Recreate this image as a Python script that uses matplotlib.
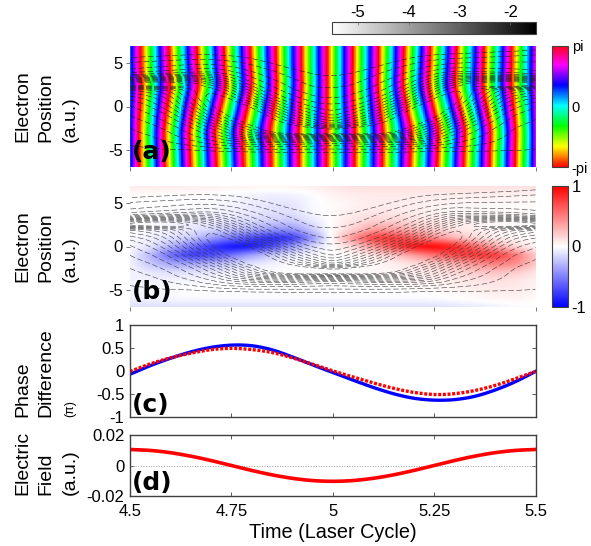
import numpy as np
import matplotlib
matplotlib.use("Agg")
import matplotlib.pyplot as plt
from matplotlib.colors import LinearSegmentedColormap, Normalize
from matplotlib.cm import ScalarMappable

plt.rcParams['font.family'] = ['Liberation Sans', 'DejaVu Sans']
plt.rcParams['axes.unicode_minus'] = False

W, H = 591, 546
TICKS_T = [4.5, 4.75, 5, 5.25, 5.5]
TICK_LABELS_T = ['4.5', '4.75', '5', '5.25', '5.5']

# ---- log density table: one list per time column, one value per y row
density_y = [7, 6, 5, 4.5, 4, 3.5, 3, 2.5, 2, 1, 0, -1, -2, -2.5, -3, -3.5, -4, -4.5, -5, -6, -7]
density_t = [4.5, 4.55, 4.6, 4.65, 4.7, 4.75, 4.8, 4.85, 4.9, 4.95, 5.0,
             5.05, 5.1, 5.15, 5.2, 5.25, 5.3, 5.35, 5.4, 5.45, 5.5]
density = [
 [-6.2,-5.55,-5.1,-4.98,-4.75,-4.25,-3.0,-2.3,-3.8,-4.3,-4.7,-4.9,-5.05,-5.15,-5.2,-5.25,-5.33,-5.4,-5.45,-5.6,-5.8],
 [-6.1,-5.5,-5.05,-4.9,-4.65,-4.1,-2.8,-2.1,-3.6,-4.1,-4.4,-4.7,-4.92,-5.02,-5.1,-5.18,-5.25,-5.35,-5.45,-5.7,-5.95],
 [-6.0,-5.45,-5.0,-4.85,-4.55,-4.0,-2.8,-2.2,-3.3,-3.7,-4.0,-4.35,-4.65,-4.8,-4.9,-5.0,-5.12,-5.25,-5.4,-5.75,-6.1],
 [-5.9,-5.4,-4.95,-4.75,-4.45,-3.9,-3.0,-2.5,-2.8,-3.0,-3.35,-3.8,-4.25,-4.45,-4.6,-4.75,-4.95,-5.15,-5.4,-5.85,-6.3],
 [-5.9,-5.4,-4.95,-4.7,-4.4,-3.95,-3.4,-3.0,-2.6,-2.4,-2.6,-3.1,-3.7,-4.0,-4.2,-4.45,-4.7,-5.0,-5.3,-5.95,-6.5],
 [-5.95,-5.45,-5.05,-4.85,-4.6,-4.3,-4.0,-3.6,-3.2,-2.6,-2.2,-2.4,-3.0,-3.4,-3.7,-4.0,-4.4,-4.85,-5.25,-6.0,-6.6],
 [-6.1,-5.55,-5.2,-5.05,-4.9,-4.7,-4.5,-4.3,-4.0,-3.4,-2.6,-2.2,-2.4,-2.8,-3.1,-3.6,-4.2,-4.8,-5.2,-5.95,-6.6],
 [-6.3,-5.75,-5.4,-5.25,-5.1,-5.0,-4.85,-4.7,-4.55,-4.1,-3.4,-2.7,-2.3,-2.2,-2.6,-3.4,-4.2,-4.8,-5.2,-5.9,-6.5],
 [-6.5,-5.95,-5.6,-5.45,-5.3,-5.2,-5.1,-5.0,-4.9,-4.55,-4.05,-3.4,-2.7,-2.3,-2.2,-3.3,-4.2,-4.8,-5.2,-5.85,-6.4],
 [-6.7,-6.1,-5.75,-5.6,-5.45,-5.35,-5.27,-5.2,-5.1,-4.85,-4.45,-3.95,-3.2,-2.5,-2.1,-3.4,-4.3,-4.85,-5.2,-5.8,-6.3],
 [-6.8,-6.2,-5.85,-5.7,-5.5,-5.4,-5.32,-5.22,-5.13,-4.93,-4.58,-4.3,-3.7,-2.8,-2.1,-3.5,-4.4,-4.9,-5.2,-5.75,-6.2],
 [-6.7,-6.1,-5.72,-5.58,-5.43,-5.33,-5.24,-5.15,-5.05,-4.8,-4.4,-3.9,-3.2,-2.5,-2.1,-3.4,-4.3,-4.85,-5.2,-5.8,-6.3],
 [-6.5,-5.9,-5.55,-5.4,-5.25,-5.15,-5.05,-4.95,-4.85,-4.5,-4.0,-3.4,-2.7,-2.3,-2.2,-3.3,-4.2,-4.8,-5.2,-5.8,-6.3],
 [-6.2,-5.7,-5.35,-5.2,-5.05,-4.95,-4.8,-4.65,-4.5,-4.05,-3.4,-2.7,-2.3,-2.2,-2.6,-3.4,-4.2,-4.8,-5.22,-5.8,-6.3],
 [-6.0,-5.5,-5.15,-5.0,-4.85,-4.65,-4.45,-4.25,-3.95,-3.35,-2.6,-2.2,-2.4,-2.8,-3.1,-3.6,-4.2,-4.8,-5.25,-5.85,-6.3],
 [-5.9,-5.4,-5.0,-4.8,-4.55,-4.25,-3.95,-3.55,-3.15,-2.55,-2.2,-2.4,-3.0,-3.4,-3.7,-4.0,-4.4,-4.9,-5.3,-5.85,-6.3],
 [-5.85,-5.35,-4.9,-4.65,-4.35,-3.9,-3.35,-2.95,-2.55,-2.35,-2.6,-3.1,-3.75,-4.05,-4.3,-4.55,-4.8,-5.05,-5.3,-5.8,-6.2],
 [-5.8,-5.3,-4.85,-4.7,-4.4,-3.85,-2.95,-2.45,-2.75,-2.95,-3.35,-3.85,-4.35,-4.55,-4.7,-4.85,-5.0,-5.15,-5.32,-5.75,-6.1],
 [-5.75,-5.25,-4.85,-4.7,-4.45,-3.9,-2.75,-2.15,-3.25,-3.65,-4.05,-4.5,-4.8,-4.92,-5.0,-5.07,-5.15,-5.25,-5.35,-5.7,-6.0],
 [-5.7,-5.2,-4.85,-4.72,-4.5,-4.0,-2.75,-2.05,-3.55,-4.2,-4.6,-4.95,-5.1,-5.17,-5.22,-5.25,-5.3,-5.33,-5.37,-5.65,-5.9],
 [-5.6,-5.15,-4.85,-4.75,-4.6,-4.2,-3.0,-2.3,-3.8,-4.4,-4.88,-5.1,-5.2,-5.25,-5.28,-5.3,-5.33,-5.36,-5.4,-5.6,-5.8],
]
density_levels = [-5.4,-5.15,-4.9,-4.65,-4.4,-4.2,-4.0,-3.8,-3.6,-3.4,-3.2,-3.0,-2.8,-2.6]

# ---- panel (a): stripe count along time, and stripe shift by y row
stripe_t = [4.5, 4.6, 4.7, 4.8, 4.9, 5.0, 5.1, 5.2, 5.3, 5.4, 5.5]
stripe_base = [-0.37, 1.15, 2.67, 4.19, 5.71, 7.23, 8.75, 10.27, 11.79, 13.31, 14.83]
stripe_y = [7, 5, 4, 3, 2, 1, 0, -1, -2, -3, -4, -5, -7]
stripe_shift = [
 [-.01,-.08,-.14,-.12,-.06,0,.06,.12,.14,.1,.01],
 [-.01,-.1,-.16,-.14,-.06,0,.06,.14,.16,.11,.02],
 [-.02,-.11,-.18,-.16,-.07,0,.07,.16,.18,.13,.02],
 [-.02,-.12,-.2,-.18,-.08,0,.08,.18,.2,.14,.02],
 [-.02,-.11,-.18,-.16,-.07,0,.07,.16,.18,.13,.02],
 [-.01,-.06,-.1,-.09,-.04,0,.04,.09,.1,.07,.01],
 [0,-.01,-.02,-.02,-.01,0,.01,.02,.02,.01,0],
 [.01,.04,.06,.05,.02,0,-.02,-.05,-.06,-.04,-.01],
 [.02,.08,.14,.13,.06,0,-.06,-.13,-.14,-.1,-.01],
 [.02,.12,.2,.18,.08,0,-.08,-.18,-.2,-.14,-.02],
 [.02,.11,.18,.16,.07,0,-.07,-.16,-.18,-.13,-.02],
 [.01,.1,.16,.14,.06,0,-.06,-.14,-.16,-.11,-.02],
 [.01,.08,.14,.12,.06,0,-.06,-.12,-.14,-.1,-.01],
]

# ---- panel (b): value table, one row per y, one column per time
diff_t = density_t
diff_y = [7, 6, 5, 4, 3, 2, 1, 0, -1, -2, -3, -4, -5, -6, -7]
diff = [
 [.08,.08,.08,.07,.06,.05,.05,.05,.05,.06,.1,.12,.12,.12,.12,.12,.12,.12,.12,.12,.12],
 [.02,.01,0,0,0,-.02,-.05,-.06,-.05,-.01,.05,.07,.08,.08,.08,.07,.07,.06,.06,.05,.04],
 [0,0,0,-.01,-.02,-.04,-.07,-.1,-.1,-.02,.02,.05,.07,.07,.06,.05,.04,.03,.02,.02,.02],
 [0,-.01,-.02,-.03,-.04,-.06,-.09,-.12,-.12,-.03,.02,.07,.09,.09,.07,.05,.03,.02,.02,.01,.01],
 [0,-.01,-.03,-.05,-.08,-.11,-.15,-.18,-.2,-.09,.02,.11,.17,.17,.13,.09,.06,.03,.02,.01,0],
 [0,-.02,-.05,-.09,-.15,-.22,-.3,-.4,-.42,-.2,.03,.18,.38,.38,.28,.18,.1,.06,.03,.01,0],
 [-.02,-.05,-.11,-.2,-.38,-.55,-.72,-.85,-.8,-.42,.05,.45,.78,.78,.62,.45,.28,.15,.07,.03,.01],
 [-.03,-.1,-.3,-.55,-.8,-.95,-.92,-.7,-.4,-.15,.02,.15,.4,.72,.95,1.0,.88,.62,.35,.15,.04],
 [-.05,-.28,-.6,-.78,-.72,-.55,-.35,-.2,-.08,-.02,0,.03,.1,.22,.38,.55,.72,.8,.8,.55,.22],
 [-.05,-.22,-.35,-.35,-.28,-.18,-.1,-.05,-.01,0,0,0,.03,.06,.12,.2,.3,.42,.5,.45,.22],
 [-.04,-.09,-.12,-.11,-.09,-.06,-.03,-.01,0,0,0,.01,.02,.04,.07,.1,.15,.2,.23,.2,.1],
 [-.04,-.05,-.04,-.03,-.02,-.01,0,0,0,0,0,0,.01,.02,.04,.06,.08,.1,.12,.1,.05],
 [-.04,-.03,-.01,0,0,0,0,0,0,0,0,0,0,0,.01,.02,.04,.06,.08,.08,.04],
 [-.06,-.05,-.03,-.02,-.02,-.02,-.02,-.02,-.02,-.02,-.02,-.02,-.02,-.02,-.02,-.01,0,.02,.04,.05,.02],
 [-.12,-.12,-.12,-.12,-.12,-.12,-.12,-.12,-.12,-.12,-.12,-.12,-.12,-.12,-.12,-.12,-.1,-.08,-.05,-.02,-.01],
]

# ---- panels (c), (d)
line_t = density_t
phase_blue = [-.07,.12,.28,.42,.52,.57,.56,.47,.31,.13,-.03,-.2,-.36,-.5,-.6,-.64,-.63,-.56,-.42,-.24,-.01]
phase_red = [-.01,.16,.29,.39,.47,.5,.47,.41,.29,.15,0,-.13,-.26,-.38,-.47,-.52,-.5,-.43,-.32,-.17,-.01]
field = [.0105,.0100,.0085,.0062,.0033,0,-.0033,-.0062,-.0085,-.0100,-.0105,
         -.0100,-.0085,-.0062,-.0033,0,.0033,.0062,.0085,.0100,.0105]


def axpx(x0, y0, x1, y1):
    return [x0 / W, 1 - y1 / H, (x1 - x0) / W, (y1 - y0) / H]


def soften(c, axis, k):
    if k <= 1:
        return c
    w = np.convolve(np.ones(k), np.ones(k))
    w = w / w.sum()
    n = len(w)
    pad = [(n, n) if i == axis else (0, 0) for i in range(c.ndim)]
    p = np.pad(c, pad, mode='reflect', reflect_type='odd')
    p = np.apply_along_axis(lambda v: np.convolve(v, w, mode='same'), axis, p)
    return p[n:-n, :] if axis == 0 else p[:, n:-n]


def resample(table, rows, cols, fine_rows, fine_cols, kr, kc):
    """Put a row/column table on a fine grid, with light smoothing."""
    a = np.asarray(table, float)
    rows = np.asarray(rows, float)
    cols = np.asarray(cols, float)
    o = np.argsort(rows)
    a = a[o]
    rows = rows[o]
    b = np.array([np.interp(fine_rows, rows, a[:, j]) for j in range(a.shape[1])]).T
    c = np.array([np.interp(fine_cols, cols, b[i]) for i in range(b.shape[0])])
    return soften(soften(c, 0, kr), 1, kc)


def smooth_line(ts, vals, fine):
    v = np.interp(fine, ts, vals)[None, :]
    return soften(v, 1, 15)[0]


fine_t = np.linspace(4.5, 5.5, 601)
fine_y = np.linspace(-7, 7, 421)
T, Y = np.meshgrid(fine_t, fine_y)

Z = resample(np.array(density).T, density_y, density_t, fine_y, fine_t, 12, 22)
D = resample(diff, diff_y, diff_t, fine_y, fine_t, 12, 15)
S = resample(stripe_shift, stripe_y, stripe_t, fine_y, fine_t, 15, 20)
base = np.interp(fine_t, stripe_t, stripe_base)
PHASE = np.mod(S + base[None, :], 1.0)

fig = plt.figure(figsize=(W / 100, H / 100), dpi=100)
edge = '#404040'

ax_a = fig.add_axes(axpx(130, 46, 535.5, 167))
ax_a.imshow(PHASE, origin='lower', extent=[4.5, 5.5, -7, 7], aspect='auto',
            cmap='hsv', vmin=0, vmax=1, interpolation='nearest')
ax_a.contour(T, Y, Z, levels=density_levels, colors='#202020', linewidths=0.4,
             linestyles=[(0, (10, 4.5))])

BWR = LinearSegmentedColormap.from_list('bwr2', ['#0000ff', '#ffffff', '#ff0000'])
ax_b = fig.add_axes(axpx(130, 186, 535.5, 307))
ax_b.imshow(D, origin='lower', extent=[4.5, 5.5, -7, 7], aspect='auto',
            cmap=BWR, vmin=-1, vmax=1, interpolation='bilinear')
ax_b.contour(T, Y, Z, levels=density_levels, colors='#383838', linewidths=0.4,
             linestyles=[(0, (10, 4.5))])

for ax in (ax_a, ax_b):
    ax.set_xlim(4.5, 5.5)
    ax.set_ylim(-7, 7)
    ax.set_xticks(TICKS_T)
    ax.set_xticklabels([])
    ax.set_yticks([-5, 0, 5])
    ax.set_yticklabels(['-5', '0', '5'], fontsize=12)
    ax.tick_params(length=3, width=0.6, color='#606060', pad=2)
    for s in ax.spines.values():
        s.set_visible(False)

fine_line = np.linspace(4.5, 5.5, 401)
ax_c = fig.add_axes(axpx(130, 325, 535.5, 417))
ax_c.plot(fine_line, smooth_line(line_t, phase_blue, fine_line), color='#0000ff', lw=2.4)
ax_c.plot(fine_line, smooth_line(line_t, phase_red, fine_line), color='#ff0000', lw=2.4,
          linestyle=(0, (0.9, 0.5)))
ax_c.set_ylim(-1, 1)
ax_c.set_yticks([-1, -.5, 0, .5, 1])
ax_c.set_yticklabels(['-1', '-0.5', '0', '0.5', '1'], fontsize=12)
ax_c.set_xticks(TICKS_T)
ax_c.set_xticklabels([])

ax_d = fig.add_axes(axpx(130, 435, 535.5, 496))
ax_d.axhline(0, color='#a0a0a0', lw=0.7, ls=':')
ax_d.plot(fine_line, smooth_line(line_t, field, fine_line), color='#ff0000', lw=2.6)
ax_d.set_ylim(-.02, .02)
ax_d.set_yticks([-.02, 0, .02])
ax_d.set_yticklabels(['-0.02', '0', '0.02'], fontsize=12)
ax_d.set_xticks(TICKS_T)
ax_d.set_xticklabels(TICK_LABELS_T, fontsize=12)
ax_d.tick_params(axis='x', pad=6)
ax_d.set_xlabel('Time (Laser Cycle)', fontsize=14.3, labelpad=3)

for ax in (ax_c, ax_d):
    ax.set_xlim(4.5, 5.5)
    ax.tick_params(direction='in', top=True, right=True, length=3, width=0.6, color=edge)
    ax.tick_params(axis='y', pad=4)
    for s in ax.spines.values():
        s.set_color(edge)
        s.set_linewidth(1.0)

# colour bars
cax_top = fig.add_axes(axpx(332.3, 21.5, 535.7, 33.7))
cb = fig.colorbar(ScalarMappable(Normalize(-5.5, -1.5), 'gray_r'), cax=cax_top, orientation='horizontal')
cb.set_ticks([-5, -4, -3, -2])
cb.set_ticklabels(['-5', '-4', '-3', '-2'], fontsize=12)
cax_top.xaxis.set_ticks_position('top')
cax_top.tick_params(direction='in', length=2, width=0.5, color='#707070', pad=1)
cb.outline.set_edgecolor(edge)

cax_a = fig.add_axes(axpx(551.5, 46, 567.5, 167))
cb = fig.colorbar(ScalarMappable(Normalize(-np.pi, np.pi), 'hsv'), cax=cax_a)
cb.set_ticks([-np.pi, 0, np.pi])
cb.set_ticklabels(['-pi', '0', 'pi'], fontsize=10.5)
cax_a.tick_params(length=0, pad=3)
cb.outline.set_edgecolor(edge)

cax_b = fig.add_axes(axpx(551.5, 186, 567.5, 307))
cb = fig.colorbar(ScalarMappable(Normalize(-1, 1), BWR), cax=cax_b)
cb.set_ticks([-1, 0, 1])
cb.set_ticklabels(['-1', '0', '1'], fontsize=12)
cax_b.tick_params(length=0, pad=3)
cb.outline.set_edgecolor(edge)

# panel letters
for label, y in (('(a)', 152), ('(b)', 292), ('(c)', 405), ('(d)', 483)):
    fig.text(132 / W, 1 - y / H, label, family='DejaVu Sans', fontweight='bold',
             fontsize=18, va='center', ha='left', color='black')

# left-hand titles: each line starts at the same height
TITLE = dict(rotation=90, ha='center', va='bottom', fontsize=14)
for x, s in ((23, 'Electron'), (46, 'Position'), (70, '(a.u.)')):
    fig.text(x / W, 1 - 142 / H, s, **TITLE)
    fig.text(x / W, 1 - 282 / H, s, **TITLE)
for x, s in ((23, 'Phase'), (46, 'Difference')):
    fig.text(x / W, 1 - 417 / H, s, **TITLE)
fig.text(70 / W, 1 - 417 / H, '(\u03c0)', rotation=90, ha='center', va='bottom', fontsize=9)
for x, s in ((23, 'Electric'), (46, 'Field'), (70, '(a.u.)')):
    fig.text(x / W, 1 - 495 / H, s, **TITLE)

fig.savefig('out.png', dpi=100)
